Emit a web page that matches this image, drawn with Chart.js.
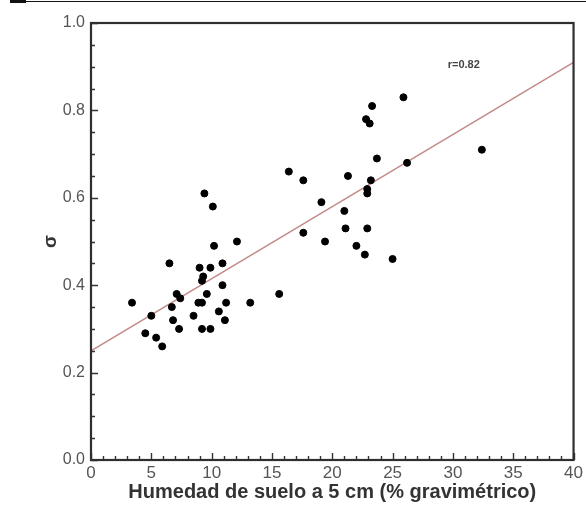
<!DOCTYPE html>
<html>
<head>
<meta charset="utf-8">
<script src="https://cdn.jsdelivr.net/npm/chart.js@4/dist/chart.umd.min.js"></script>
<style>
  html, body { margin: 0; padding: 0; background: #fff; }
  #wrap { position: relative; width: 586px; height: 508px; }
  #topline { position: absolute; left: 10px; top: 1px; width: 576px; height: 1px; background: #111; }
  #topblock { position: absolute; left: 10px; top: 0px; width: 16px; height: 3px; background: #111; }
  canvas { position: absolute; left: 0; top: 0; }
</style>
</head>
<body>
<div id="wrap">
  <canvas id="c" width="586" height="508"></canvas>
  <div id="topline"></div>
  <div id="topblock"></div>
</div>
<script>
// ---- data ----
const moistureX = [
  6.5, 9.0, 9.9, 10.9, 9.3, 9.2, 10.9, 3.4, 7.1, 7.4,
  9.6, 8.9, 9.2, 11.2, 13.2, 15.6, 6.7, 5.0, 10.6, 6.8,
  8.5, 11.1, 7.3, 9.2, 9.9, 4.5, 5.4, 5.9, 10.2, 9.4,
  10.1, 12.1, 25.9, 23.3, 22.8, 23.1, 32.4, 23.7, 26.2, 16.4,
  17.6, 21.3, 23.2, 22.9, 22.9, 19.1, 21.0, 17.6, 21.1, 22.9,
  19.4, 22.0, 22.7, 25.0
];
const sigmaY = [
  0.45, 0.44, 0.44, 0.45, 0.42, 0.41, 0.40, 0.36, 0.38, 0.37,
  0.38, 0.36, 0.36, 0.36, 0.36, 0.38, 0.35, 0.33, 0.34, 0.32,
  0.33, 0.32, 0.30, 0.30, 0.30, 0.29, 0.28, 0.26, 0.49, 0.61,
  0.58, 0.50, 0.83, 0.81, 0.78, 0.77, 0.71, 0.69, 0.68, 0.66,
  0.64, 0.65, 0.64, 0.62, 0.61, 0.59, 0.57, 0.52, 0.53, 0.53,
  0.50, 0.49, 0.47, 0.46
];
const fitX = [0, 40];
const fitY = [0.25, 0.91];
const yTickLabels = ['0.0', '0.2', '0.4', '0.6', '0.8', '1.0'];
const xTickLabels = ['0', '5', '10', '15', '20', '25', '30', '35', '40'];
const rLabel = 'r=0.82';
const rLabelAt = [30.9, 0.905];
const xTitle = 'Humedad de suelo a 5 cm (% gravimétrico)';
const yTitle = 'σ';

const points = moistureX.map((v, i) => ({ x: v, y: sigmaY[i] }));
const fitLine = fitX.map((v, i) => ({ x: v, y: fitY[i] }));

const frameTicks = {
  id: 'frameTicks',
  afterDraw(chart) {
    const { ctx, chartArea: a, scales: { x, y } } = chart;
    ctx.save();
    ctx.strokeStyle = '#333';
    ctx.lineWidth = 1.4;
    ctx.beginPath();
    for (let v = 0; v <= 40; v += 1) {
      const px = Math.round(x.getPixelForValue(v)) + 0.5;
      const len = v % 5 === 0 ? 7 : 4;
      ctx.moveTo(px, a.bottom);
      ctx.lineTo(px, a.bottom - len);
    }
    for (let k = 0; k <= 20; k++) {
      const v = k * 0.05;
      const py = Math.round(y.getPixelForValue(v)) + 0.5;
      const len = k % 4 === 0 ? 7 : 4;
      ctx.moveTo(a.left, py);
      ctx.lineTo(a.left + len, py);
    }
    ctx.stroke();
    ctx.lineWidth = 2.2;
    ctx.strokeStyle = '#2e2e2e';
    ctx.strokeRect(a.left, a.top, a.right - a.left, a.bottom - a.top);
    ctx.fillStyle = '#444';
    ctx.font = 'bold 11px "Liberation Sans", Arial, sans-serif';
    ctx.textAlign = 'center';
    ctx.textBaseline = 'middle';
    ctx.fillText(rLabel, x.getPixelForValue(rLabelAt[0]), y.getPixelForValue(rLabelAt[1]));
    ctx.restore();
  }
};

new Chart(document.getElementById('c'), {
  type: 'scatter',
  data: {
    datasets: [
      {
        data: points,
        backgroundColor: '#000',
        borderColor: '#000',
        pointRadius: 3.5,
        pointHoverRadius: 3.5,
        order: 1
      },
      {
        type: 'line',
        data: fitLine,
        borderColor: '#c48a8a',
        borderWidth: 1.5,
        pointRadius: 0,
        fill: false,
        order: 2
      }
    ]
  },
  options: {
    responsive: false,
    animation: false,
    events: [],
    layout: { padding: { top: 23, right: 11, left: 0, bottom: 4 } },
    plugins: { legend: { display: false }, tooltip: { enabled: false } },
    scales: {
      x: {
        type: 'linear',
        min: 0, max: 40,
        afterFit(s) { s.height = 44; },
        grid: { display: false, drawTicks: false },
        border: { display: false },
        ticks: {
          stepSize: 5,
          padding: 3,
          maxRotation: 0,
          autoSkip: false,
          color: '#555',
          font: { family: '"Liberation Sans", Arial, sans-serif', size: 17 },
          callback: (v) => xTickLabels[Math.round(v / 5)]
        },
        title: {
          display: true,
          text: xTitle,
          color: '#333',
          padding: { top: 0, bottom: 0 },
          font: { family: '"Liberation Sans", Arial, sans-serif', size: 20, weight: 'bold' }
        }
      },
      y: {
        type: 'linear',
        min: 0, max: 1,
        afterFit(s) { s.width = 91; },
        grid: { display: false, drawTicks: false },
        border: { display: false },
        ticks: {
          stepSize: 0.2,
          padding: 6,
          color: '#555',
          font: { family: '"Liberation Sans", Arial, sans-serif', size: 16 },
          callback: (v) => yTickLabels[Math.round(v / 0.2)]
        },
        title: {
          display: true,
          text: yTitle,
          color: '#333',
          padding: { top: 39, bottom: 0 },
          font: { family: '"Liberation Sans", Arial, sans-serif', size: 19, weight: 'bold' }
        }
      }
    }
  },
  plugins: [frameTicks]
});
</script>
</body>
</html>
